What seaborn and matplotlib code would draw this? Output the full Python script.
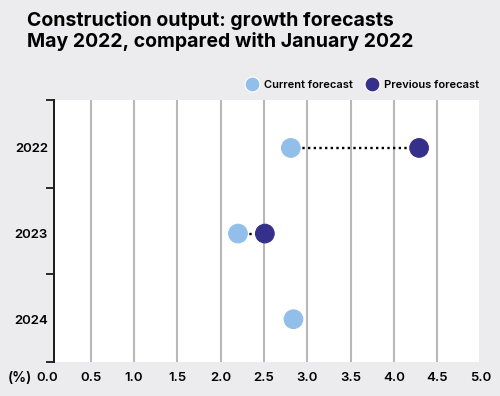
import numpy as np
import pandas as pd
import matplotlib
matplotlib.use("Agg")
import matplotlib.pyplot as plt
from matplotlib.patches import Rectangle
from matplotlib.ticker import FixedLocator
import seaborn as sns

years = ["2022", "2023", "2024"]
current = [2.81, 2.20, 2.84]
previous = [4.29, 2.51, np.nan]
x_ticks = [0.0, 0.5, 1.0, 1.5, 2.0, 2.5, 3.0, 3.5, 4.0, 4.5, 5.0]

sns.set_theme(style="white")
plt.rcParams["font.family"] = ["Inter", "DejaVu Sans"]
plt.rcParams["text.color"] = "black"
plt.rcParams["xtick.color"] = "black"
plt.rcParams["ytick.color"] = "black"

bg = "#ececee"
c_cur = "#92bfea"
c_prev = "#35318a"

pos = np.arange(len(years))
df = pd.DataFrame({
    "pos": np.concatenate([pos, pos]),
    "value": current + previous,
    "series": ["Current forecast"] * 3 + ["Previous forecast"] * 3,
}).dropna()

fig = plt.figure(figsize=(5, 3.96), dpi=100, facecolor=bg)
# axes spans value 0..5 ; white panel is slightly narrower
ax = fig.add_axes([47.4 / 500, 1 - 362 / 396, 433.2 / 500, 262 / 396])
ax.set_facecolor(bg)
p_left = (53.5 - 47.4) / 433.2
p_right = (478.5 - 47.4) / 433.2
ax.add_patch(Rectangle((p_left, 0), p_right - p_left, 1, transform=ax.transAxes,
                       facecolor="white", edgecolor="none", zorder=0))

for s in ["top", "right", "bottom"]:
    ax.spines[s].set_visible(False)
ax.spines["left"].set_position(("axes", p_left))
ax.spines["left"].set_color("#1a1a1a")
ax.spines["left"].set_linewidth(1.4)

ax.hlines(pos, current, previous, colors="black", linestyles=(0, (1, 1.4)),
          linewidth=1.7, zorder=2)
sns.scatterplot(data=df, x="value", y="pos", hue="series",
                palette={"Current forecast": c_cur, "Previous forecast": c_prev},
                s=180, linewidth=0.8, zorder=3, ax=ax, legend=True)
for coll in ax.collections[1:]:
    coll.set_edgecolors(coll.get_facecolors())

ax.set_xlim(0, 5)
ax.set_ylim(2.5, -0.56)
ax.set_xticks(x_ticks)
ax.set_xticklabels([f"{t:.1f}" for t in x_ticks], fontsize=9.5, fontweight="semibold")
ax.set_yticks(pos)
ax.set_yticklabels(years, fontsize=9.5, fontweight="semibold")
ax.yaxis.set_minor_locator(FixedLocator([-0.56, 0.465, 1.475, 2.5]))
ax.tick_params(axis="x", length=0, pad=7)
ax.tick_params(axis="y", which="major", length=0, pad=4)
ax.tick_params(axis="y", which="minor", length=6, width=1.3, color="#1a1a1a", left=True)
ax.set_xlabel("")
ax.set_ylabel("")

for x in x_ticks[1:-1]:
    ax.axvline(x, color="#b8b8b8", linewidth=1.5, zorder=1)

handles, labels = ax.get_legend_handles_labels()
ax.legend(handles, labels, ncol=2, frameon=False, loc="center right",
          bbox_to_anchor=(0.996, 1 + 15 / 262), borderaxespad=0, borderpad=0,
          handletextpad=0.1, columnspacing=0.7, markerscale=0.8,
          prop={"weight": "semibold", "size": 8.0})

fig.text(0.054, 0.972, "Construction output: growth forecasts\nMay 2022, compared with January 2022",
         fontsize=14, fontweight="bold", va="top", ha="left", linespacing=1.12)
fig.text(0.016, 1 - 378 / 396, "(%)", fontsize=10, fontweight="semibold", va="center", ha="left")

fig.savefig("out.png", dpi=100, facecolor=bg)
